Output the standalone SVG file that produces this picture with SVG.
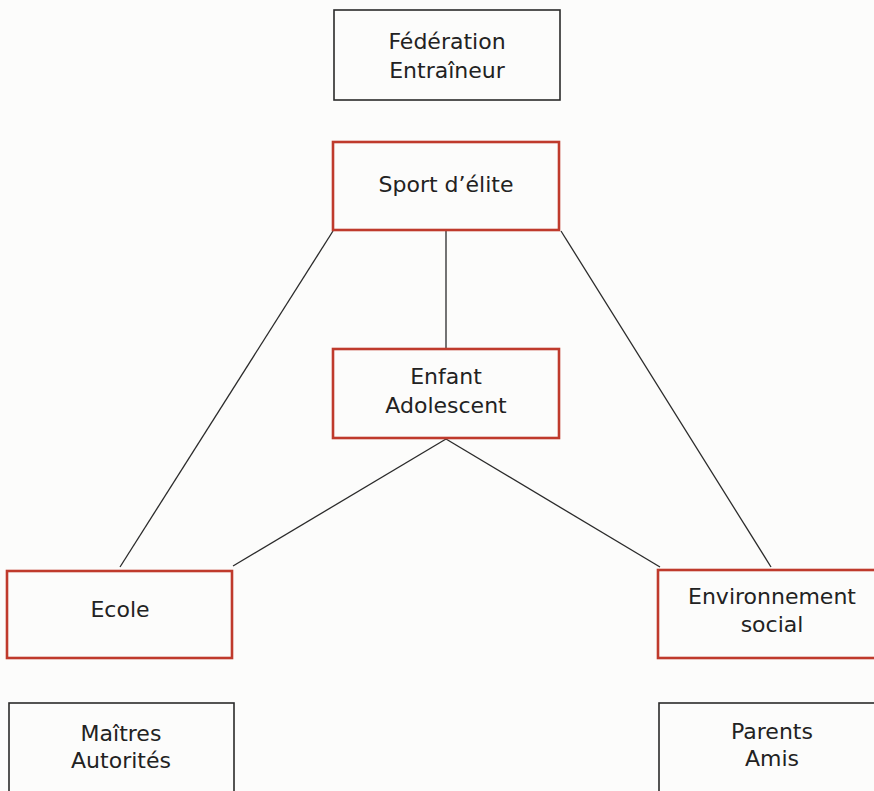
<svg xmlns="http://www.w3.org/2000/svg" width="874" height="791" viewBox="0 0 874 791">
<style>
.bg{fill:#fcfcfb}
.red{fill:none;stroke:#bf3a2c;stroke-width:2.6}
.blk{fill:none;stroke:#2a2a2a;stroke-width:1.6}
text{font-family:"DejaVu Sans","Liberation Sans",sans-serif;font-size:22px;fill:#222;text-anchor:middle}
.ln{stroke:#2a2a2a;stroke-width:1.3;fill:none}
</style>
<rect class="bg" x="0" y="0" width="874" height="791"/>
<g id="connectors">
<line class="ln" x1="333" y1="231" x2="120" y2="567"/>
<line class="ln" x1="446" y1="231" x2="446" y2="349"/>
<line class="ln" x1="561" y1="231" x2="771" y2="567"/>
<line class="ln" x1="446" y1="439" x2="233" y2="566"/>
<line class="ln" x1="446" y1="439" x2="660" y2="567"/>
</g>
<g id="federation">
<rect class="blk" x="334" y="10" width="226" height="90"/>
<text x="447" y="49">Fédération</text>
<text x="447" y="78">Entraîneur</text>
</g>
<g id="sport">
<rect class="red" x="333" y="142" width="226" height="88"/>
<text x="446" y="192">Sport d’élite</text>
</g>
<g id="enfant">
<rect class="red" x="333" y="349" width="226" height="89"/>
<text x="446" y="384">Enfant</text>
<text x="446" y="413">Adolescent</text>
</g>
<g id="ecole">
<rect class="red" x="7" y="571" width="225" height="87"/>
<text x="120" y="617">Ecole</text>
</g>
<g id="maitres">
<rect class="blk" x="9" y="703" width="225" height="100"/>
<text x="121" y="741">Maîtres</text>
<text x="121" y="768">Autorités</text>
</g>
<g id="environnement">
<rect class="red" x="658" y="570" width="230" height="88"/>
<text x="772" y="604">Environnement</text>
<text x="772" y="632">social</text>
</g>
<g id="parents">
<rect class="blk" x="659" y="703" width="230" height="100"/>
<text x="772" y="739">Parents</text>
<text x="772" y="766">Amis</text>
</g>
</svg>
